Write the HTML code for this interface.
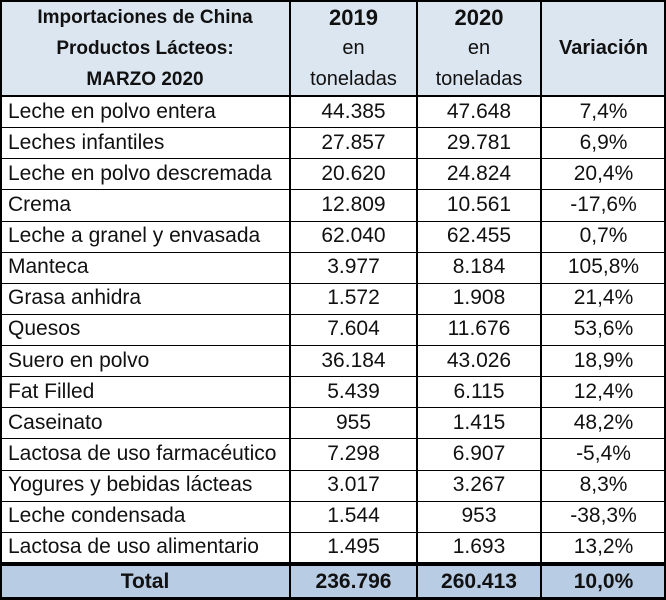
<!DOCTYPE html>
<html><head><meta charset="utf-8"><style>
body{margin:0;width:666px;height:600px;background:#fff;font-family:"Liberation Sans",sans-serif;overflow:hidden}
#t{position:absolute;left:0;top:0;width:666px;height:600px}
.c{position:absolute;box-sizing:border-box;display:flex;align-items:center;font-size:21px;color:#111;white-space:nowrap}
.l{justify-content:flex-start;padding-left:8px}
.m{justify-content:center}
.h{background:#dce6f1;flex-direction:column;justify-content:center;text-align:center;line-height:31px;font-size:20px}
.b{font-weight:bold}
.tot{background:#b8cce4;font-weight:bold}
.ln{position:absolute;background:#000}
</style></head><body>
<div id="t">
<div class="c h b" style="left:0;top:0;width:290px;height:96px;font-size:19px"><div>Importaciones de China</div><div>Productos Lácteos:</div><div>MARZO 2020</div></div>
<div class="c h" style="left:290px;top:0;width:127px;height:96px"><div class="b" style="font-size:22px">2019</div><div>en</div><div>toneladas</div></div>
<div class="c h" style="left:417px;top:0;width:124px;height:96px"><div class="b" style="font-size:22px">2020</div><div>en</div><div>toneladas</div></div>
<div class="c h b" style="left:541px;top:0;width:125px;height:96px"><div>Variación</div></div>
</div>
<script>
const products=["Leche en polvo entera","Leches infantiles","Leche en polvo descremada","Crema","Leche a granel y envasada","Manteca","Grasa anhidra","Quesos","Suero en polvo","Fat Filled","Caseinato","Lactosa de uso farmacéutico","Yogures y bebidas lácteas","Leche condensada","Lactosa de uso alimentario"];
const v2019=["44.385","27.857","20.620","12.809","62.040","3.977","1.572","7.604","36.184","5.439","955","7.298","3.017","1.544","1.495"];
const v2020=["47.648","29.781","24.824","10.561","62.455","8.184","1.908","11.676","43.026","6.115","1.415","6.907","3.267","953","1.693"];
const variation=["7,4%","6,9%","20,4%","-17,6%","0,7%","105,8%","21,4%","53,6%","18,9%","12,4%","48,2%","-5,4%","8,3%","-38,3%","13,2%"];
const totals=["Total","236.796","260.413","10,0%"];
const t=document.getElementById('t');
const xs=[0,290,417,541,666];
const top0=96, rowH=(563-96)/products.length;
function cell(txt,i,y,h,cls){
  const d=document.createElement('div');
  d.className='c '+cls;
  d.style.left=xs[i]+'px';d.style.top=y+'px';d.style.width=(xs[i+1]-xs[i])+'px';d.style.height=h+'px';
  d.textContent=txt;t.appendChild(d);return d;
}
products.forEach((p,r)=>{
  const y=top0+r*rowH;
  const cols=[p,v2019[r],v2020[r],variation[r]];
  cols.forEach((txt,i)=>{
    const d=cell(txt,i,y,rowH,i==0?'l':'m');
    
    
  });
});
totals.forEach((txt,i)=>{
  const d=cell(txt,i,566,32,'m tot');
  
  
});
function line(x,y,w,h){const l=document.createElement('div');l.className='ln';l.style.left=x+'px';l.style.top=y+'px';l.style.width=w+'px';l.style.height=h+'px';t.appendChild(l);

}
line(0,0,666,2);line(0,95,666,2);
for(let r=1;r<products.length;r++)line(0,Math.round(top0+r*rowH),666,1);
line(0,562,666,4);line(0,597,666,3);
line(0,0,2,600);line(664,0,2,600);
[290,417,541].forEach(x=>line(x-1,0,2,600));
</script>
</body></html>
